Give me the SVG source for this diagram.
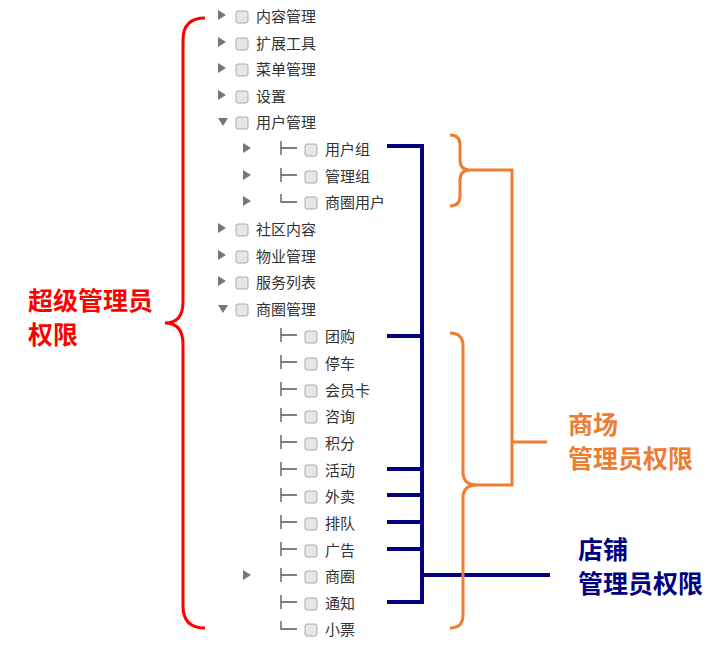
<svg xmlns="http://www.w3.org/2000/svg" width="728" height="647" viewBox="0 0 728 647">
<style>
.t{font-family:"Noto Sans CJK SC","Liberation Sans",sans-serif;font-size:15px;fill:#333}
.cb{fill:#e6e6e6;stroke:#aaa;stroke-width:1}
.tri{fill:#777}
.tree{stroke:#555;stroke-width:1.3;fill:none}
.nv{stroke:#000080;stroke-width:4;fill:none}
.or{stroke:#ED7D31;stroke-width:3;fill:none}
.lbl{font-family:"Noto Sans CJK SC",sans-serif;font-weight:bold;font-size:25px}
</style>
<rect width="728" height="647" fill="#fff"/>
<g id="tree">
<g id="n1"><path class="tri" d="M218,10 l8,5 l-8,5z"/><rect class="cb" x="236" y="11" width="12" height="12" rx="2"/><text class="t" x="256" y="22">内容管理</text></g>
<g id="n2"><path class="tri" d="M218,37 l8,5 l-8,5z"/><rect class="cb" x="236" y="38" width="12" height="12" rx="2"/><text class="t" x="256" y="49">扩展工具</text></g>
<g id="n3"><path class="tri" d="M218,63 l8,5 l-8,5z"/><rect class="cb" x="236" y="64" width="12" height="12" rx="2"/><text class="t" x="256" y="75">菜单管理</text></g>
<g id="n4"><path class="tri" d="M218,90 l8,5 l-8,5z"/><rect class="cb" x="236" y="91" width="12" height="12" rx="2"/><text class="t" x="256" y="102">设置</text></g>
<g id="n5"><path class="tri" d="M218,118 l10,0 l-5,8z"/><rect class="cb" x="236" y="117" width="12" height="12" rx="2"/><text class="t" x="256" y="128">用户管理</text></g>
<g id="n6"><path class="tri" d="M243,143 l8,5 l-8,5z"/><path class="tree" d="M281,141v14M281,148h16"/><rect class="cb" x="305" y="144" width="12" height="12" rx="2"/><text class="t" x="325" y="155">用户组</text></g>
<g id="n7"><path class="tri" d="M243,170 l8,5 l-8,5z"/><path class="tree" d="M281,168v14M281,175h16"/><rect class="cb" x="305" y="171" width="12" height="12" rx="2"/><text class="t" x="325" y="182">管理组</text></g>
<g id="n8"><path class="tri" d="M243,196 l8,5 l-8,5z"/><path class="tree" d="M281,194v8h16"/><rect class="cb" x="305" y="197" width="12" height="12" rx="2"/><text class="t" x="325" y="208">商圈用户</text></g>
<g id="n9"><path class="tri" d="M218,223 l8,5 l-8,5z"/><rect class="cb" x="236" y="224" width="12" height="12" rx="2"/><text class="t" x="256" y="235">社区内容</text></g>
<g id="n10"><path class="tri" d="M218,250 l8,5 l-8,5z"/><rect class="cb" x="236" y="251" width="12" height="12" rx="2"/><text class="t" x="256" y="262">物业管理</text></g>
<g id="n11"><path class="tri" d="M218,276 l8,5 l-8,5z"/><rect class="cb" x="236" y="277" width="12" height="12" rx="2"/><text class="t" x="256" y="288">服务列表</text></g>
<g id="n12"><path class="tri" d="M218,305 l10,0 l-5,8z"/><rect class="cb" x="236" y="304" width="12" height="12" rx="2"/><text class="t" x="256" y="315">商圈管理</text></g>
<g id="n13"><path class="tree" d="M281,328v14M281,335h16"/><rect class="cb" x="305" y="331" width="12" height="12" rx="2"/><text class="t" x="325" y="342">团购</text></g>
<g id="n14"><path class="tree" d="M281,355v14M281,362h16"/><rect class="cb" x="305" y="358" width="12" height="12" rx="2"/><text class="t" x="325" y="369">停车</text></g>
<g id="n15"><path class="tree" d="M281,382v14M281,389h16"/><rect class="cb" x="305" y="385" width="12" height="12" rx="2"/><text class="t" x="325" y="396">会员卡</text></g>
<g id="n16"><path class="tree" d="M281,408v14M281,415h16"/><rect class="cb" x="305" y="411" width="12" height="12" rx="2"/><text class="t" x="325" y="422">咨询</text></g>
<g id="n17"><path class="tree" d="M281,435v14M281,442h16"/><rect class="cb" x="305" y="438" width="12" height="12" rx="2"/><text class="t" x="325" y="449">积分</text></g>
<g id="n18"><path class="tree" d="M281,462v14M281,469h16"/><rect class="cb" x="305" y="465" width="12" height="12" rx="2"/><text class="t" x="325" y="476">活动</text></g>
<g id="n19"><path class="tree" d="M281,488v14M281,495h16"/><rect class="cb" x="305" y="491" width="12" height="12" rx="2"/><text class="t" x="325" y="502">外卖</text></g>
<g id="n20"><path class="tree" d="M281,515v14M281,522h16"/><rect class="cb" x="305" y="518" width="12" height="12" rx="2"/><text class="t" x="325" y="529">排队</text></g>
<g id="n21"><path class="tree" d="M281,542v14M281,549h16"/><rect class="cb" x="305" y="545" width="12" height="12" rx="2"/><text class="t" x="325" y="556">广告</text></g>
<g id="n22"><path class="tri" d="M243,570 l8,5 l-8,5z"/><path class="tree" d="M281,568v14M281,575h16"/><rect class="cb" x="305" y="571" width="12" height="12" rx="2"/><text class="t" x="325" y="582">商圈</text></g>
<g id="n23"><path class="tree" d="M281,595v14M281,602h16"/><rect class="cb" x="305" y="598" width="12" height="12" rx="2"/><text class="t" x="325" y="609">通知</text></g>
<g id="n24"><path class="tree" d="M281,621v8h16"/><rect class="cb" x="305" y="624" width="12" height="12" rx="2"/><text class="t" x="325" y="635">小票</text></g>
</g>
<g id="connectors">
<path d="M205,18 Q183,18 183,40 V302 Q183,323 165,323 Q183,323 183,344 V606 Q183,628 205,628" stroke="#f00" stroke-width="3" fill="none"/>
<path class="nv" d="M387,146 H422 V602 H387 M387,336H422 M387,469H422 M387,495H422 M387,522H422 M387,549H422 M422,575H550"/>
<path class="or" d="M450,135 Q460,135 460,145 V160 Q460,170 470,170 Q460,170 460,180 V196 Q460,206 450,206"/>
<path class="or" d="M470,170 H512 V485 H477 M512,442 H547"/>
<path class="or" d="M450,333 Q463,333 463,346 V472 Q463,485 477,485 Q463,485 463,498 V615 Q463,628 450,628"/>
</g>
<g id="labels">
<text class="lbl" x="28" y="310" fill="#f00">超级管理员</text>
<text class="lbl" x="28" y="344" fill="#f00">权限</text>
<text class="lbl" x="568" y="434" fill="#ED7D31">商场</text>
<text class="lbl" x="568" y="468" fill="#ED7D31">管理员权限</text>
<text class="lbl" x="578" y="559" fill="#000080">店铺</text>
<text class="lbl" x="578" y="593" fill="#000080">管理员权限</text>
</g>
</svg>
